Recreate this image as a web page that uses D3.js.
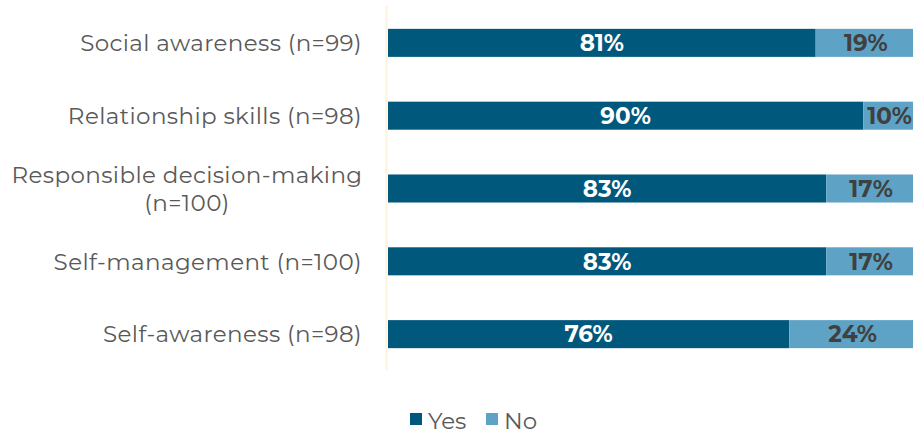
<!DOCTYPE html>
<html><head><meta charset="utf-8">
<script src="https://cdn.jsdelivr.net/npm/d3@7"></script>
<style>body{margin:0;background:#fff;}svg{display:block;}</style>
</head><body>
<script>
const categories = [["Social awareness (n=99)"],["Relationship skills (n=98)"],["Responsible decision-making","(n=100)"],["Self-management (n=100)"],["Self-awareness (n=98)"]];
const yesValues = [81, 90, 83, 83, 76];
const noValues = [19, 10, 17, 17, 24];
const seriesNames = ["Yes", "No"];

const W = 913, H = 435;
const svg = d3.select("body").append("svg").attr("width", W).attr("height", H);
const font = "Montserrat, 'Open Sans', Lato, sans-serif";
const colors = ["#00587c", "#5ea3c6"];

const y = d3.scaleBand().domain(d3.range(categories.length)).range([7, 370]).paddingInner(0.615).paddingOuter(0.3);
const x = d3.scaleLinear().domain([0, 100]).range([388, 916]);

svg.append("line").attr("x1", 386.5).attr("x2", 386.5).attr("y1", 5).attr("y2", 370)
  .attr("stroke", "#fdf3dc").attr("stroke-width", 2);

const rows = categories.map((c, i) => ({c, i, yes: yesValues[i], no: noValues[i]}));
const g = svg.append("g");
rows.forEach(r => {
  const yy = y(r.i), bh = y.bandwidth();
  g.append("rect").attr("x", x(0)).attr("y", yy).attr("width", x(r.yes) - x(0)).attr("height", bh).attr("fill", colors[0]);
  g.append("rect").attr("x", x(r.yes)).attr("y", yy).attr("width", x(r.yes + r.no) - x(r.yes)).attr("height", bh).attr("fill", colors[1]);
  g.append("text").attr("x", (x(0) + x(r.yes)) / 2).attr("y", yy + bh / 2).attr("dy", "0.36em")
    .attr("text-anchor", "middle").attr("font-family", font).attr("font-weight", "bold").attr("font-size", 23)
    .attr("fill", "#fff").text(r.yes + "%");
  g.append("text").attr("x", (x(r.yes) + x(r.yes + r.no)) / 2).attr("y", yy + bh / 2).attr("dy", "0.36em")
    .attr("text-anchor", "middle").attr("font-family", font).attr("font-weight", "bold").attr("font-size", 23)
    .attr("fill", "#404040").text(r.no + "%");
  const lines = r.c;
  const lh = 28;
  const t = g.append("text").attr("text-anchor", lines.length > 1 ? "middle" : "end")
    .attr("font-family", font).attr("font-size", 23).attr("letter-spacing", 0.4).attr("fill", "#595959");
  lines.forEach((ln, k) => {
    t.append("tspan").attr("x", lines.length > 1 ? 187 : 362)
      .attr("y", yy + bh / 2 + (k - (lines.length - 1) / 2) * lh).attr("dy", "0.36em").text(ln);
  });
});

// legend
const leg = svg.append("g");
const lx = [410, 486];
seriesNames.forEach((s, i) => {
  leg.append("rect").attr("x", lx[i]).attr("y", 413).attr("width", 12).attr("height", 12).attr("fill", colors[i]);
  leg.append("text").attr("x", lx[i] + 18).attr("y", 429).attr("font-family", font).attr("font-size", 23)
    .attr("fill", "#595959").text(s);
});
</script>
</body></html>
